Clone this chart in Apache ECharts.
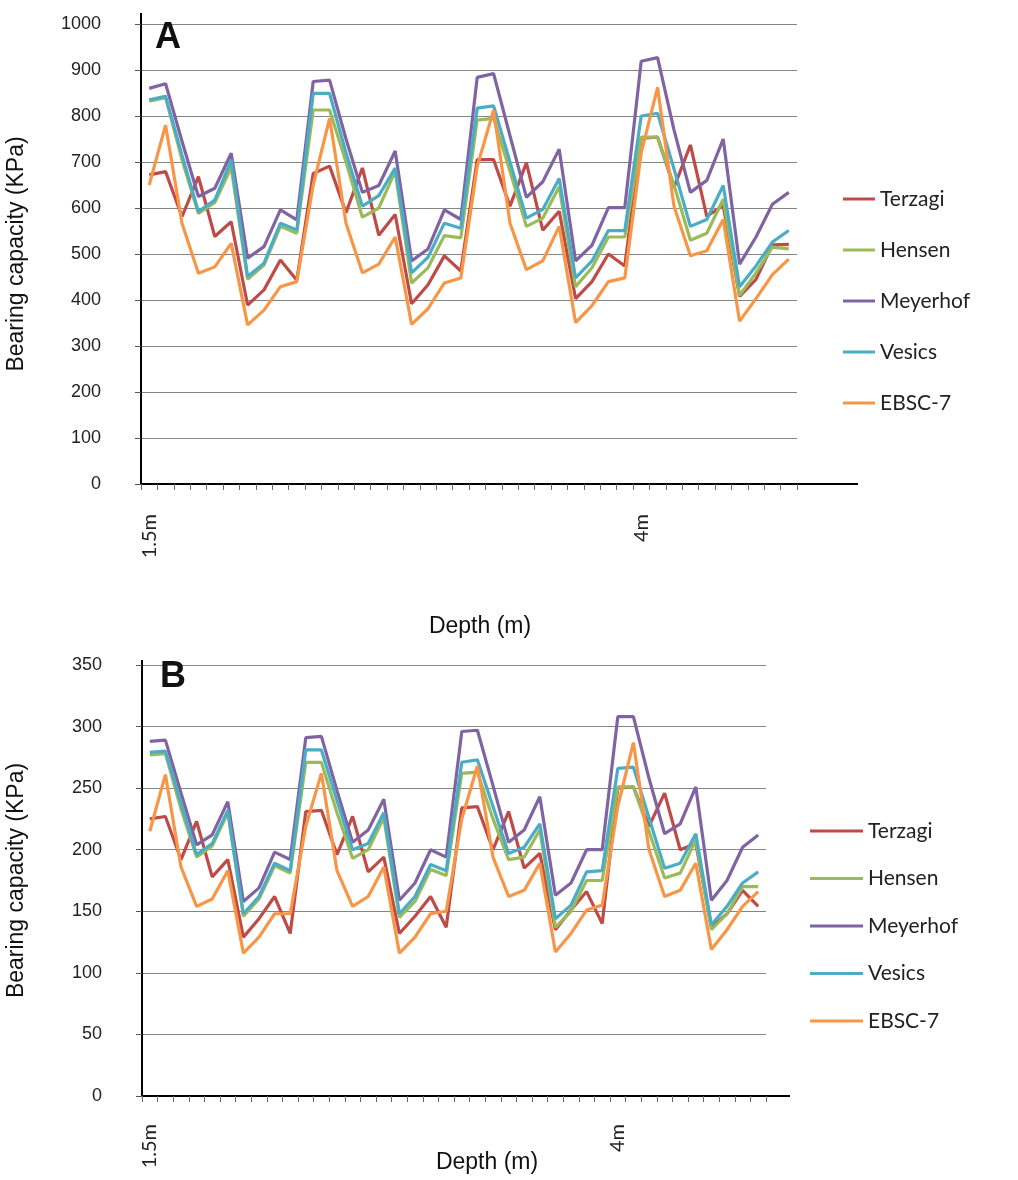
<!DOCTYPE html>
<html>
<head>
<meta charset="utf-8">
<script src="https://cdn.jsdelivr.net/npm/echarts@6/dist/echarts.min.js"></script>
<style>
  html, body { margin: 0; padding: 0; background: #ffffff; }
  #chart { width: 1018px; height: 1180px; }
</style>
</head>
<body>
<div id="chart"></div>
<script>
// Bearing capacity against depth, 40 points per panel, five methods.
const pointCount = 40;
const depthTicks = [[0, '1.5m'], [30, '4m']];
const seriesNames = ['Terzagi', 'Hensen', 'Meyerhof', 'Vesics', 'EBSC-7'];
const seriesColors = ['#be4b48', '#9bbb59', '#8064a2', '#4bacc6', '#f79646'];

// Panel A (KPa)
const terzagiA = [
  672, 679, 581, 668, 538, 570, 389, 422, 487, 443,
  675, 691, 590, 687, 541, 586, 392, 433, 496, 463,
  705, 705, 604, 698, 552, 593, 403, 440, 500, 474,
  752, 754, 645, 737, 582, 605, 408, 445, 520, 521
];
const hensenA = [
  832, 840, 705, 588, 612, 688, 445, 476, 560, 545,
  813, 813, 700, 580, 600, 680, 437, 470, 540, 535,
  791, 795, 680, 560, 578, 646, 429, 470, 537, 537,
  754, 754, 650, 530, 545, 619, 410, 459, 515, 511
];
const meyerhofA = [
  860, 870, 745, 625, 643, 719, 491, 516, 596, 574,
  875, 878, 750, 634, 649, 724, 485, 511, 596, 575,
  884, 892, 757, 623, 657, 728, 485, 519, 601, 601,
  919, 927, 770, 634, 660, 750, 478, 537, 608, 634
];
const vesicsA = [
  835, 843, 715, 592, 617, 704, 451, 480, 567, 552,
  849, 849, 720, 604, 627, 687, 459, 493, 567, 556,
  817, 822, 700, 578, 597, 664, 448, 485, 551, 551,
  800, 806, 685, 560, 575, 649, 429, 474, 526, 551
];
const ebscA = [
  650, 780, 567, 458, 472, 523, 346, 378, 429, 440,
  650, 795, 567, 459, 478, 537, 347, 381, 437, 448,
  690, 813, 567, 466, 485, 560, 351, 388, 440, 448,
  720, 862, 604, 496, 507, 575, 354, 403, 455, 489
];

// Panel B (KPa)
const terzagiB = [
  225, 227, 192, 223, 178, 192, 129, 144, 162, 132,
  231, 232, 196, 227, 182, 194, 132, 146, 162, 137,
  234, 235, 200, 231, 185, 197, 135, 151, 166, 140,
  250, 251, 219, 246, 200, 205, 137, 148, 167, 154
];
const hensenB = [
  277, 278, 233, 194, 203, 230, 146, 160, 187, 181,
  271, 271, 230, 193, 200, 226, 145, 158, 184, 179,
  262, 263, 225, 192, 194, 216, 137, 150, 175, 175,
  251, 251, 215, 177, 181, 208, 135, 148, 170, 170
];
const meyerhofB = [
  288, 289, 246, 204, 212, 239, 158, 169, 198, 192,
  291, 292, 248, 206, 216, 241, 159, 173, 200, 194,
  296, 297, 252, 206, 216, 243, 163, 173, 200, 200,
  308, 308, 258, 213, 221, 251, 159, 175, 202, 212
];
const vesicsB = [
  279, 280, 238, 196, 205, 232, 148, 162, 189, 183,
  281, 281, 240, 200, 205, 230, 148, 162, 188, 183,
  271, 273, 235, 197, 202, 221, 144, 155, 182, 183,
  266, 267, 226, 185, 189, 213, 139, 154, 173, 182
];
const ebscB = [
  215, 261, 186, 154, 160, 183, 116, 129, 148, 148,
  219, 262, 183, 154, 162, 186, 116, 129, 148, 150,
  225, 268, 194, 162, 167, 189, 117, 132, 151, 155,
  235, 287, 200, 162, 167, 189, 119, 135, 154, 166
];

const panelA = [terzagiA, hensenA, meyerhofA, vesicsA, ebscA];
const panelB = [terzagiB, hensenB, meyerhofB, vesicsB, ebscB];

// Category names: only the labelled depths carry text.
const categories = Array.from({ length: pointCount }, () => '');
depthTicks.forEach(([i, label]) => { categories[i] = label; });

const gridA = { left: 141, top: 24, width: 656, height: 460, outerBoundsMode: 'none' };
const gridB = { left: 142, top: 665, width: 624, height: 431, outerBoundsMode: 'none' };

const numFont = 'Liberation Sans, Arial, sans-serif';
const labelFont = 'Lato, Open Sans, sans-serif';

function xAxisFor(gridIndex, labelMargin, nameGap, namePadLeft) {
  return {
    type: 'category',
    gridIndex,
    data: categories,
    boundaryGap: true,
    axisLine: { show: true, lineStyle: { color: '#000', width: 2 } },
    axisTick: { show: true, interval: 0, length: 6, lineStyle: { color: '#666', width: 1 } },
    axisLabel: {
      interval: 0, rotate: 90, margin: labelMargin,
      fontFamily: labelFont, fontSize: 20, color: '#222'
    },
    splitLine: { show: false },
    name: 'Depth (m)',
    nameLocation: 'middle',
    nameGap,
    nameMoveOverlap: false,
    nameTextStyle: {
      fontFamily: numFont, fontSize: 23, color: '#111',
      padding: [0, 0, 0, namePadLeft]
    }
  };
}

function yAxisFor(gridIndex, max, interval, nameGap) {
  return {
    type: 'value',
    gridIndex,
    min: 0, max, interval,
    axisLine: { show: true, lineStyle: { color: '#000', width: 2 } },
    axisTick: { show: true, length: 6, lineStyle: { color: '#555', width: 1 } },
    axisLabel: {
      margin: 40, fontFamily: numFont, fontSize: 18, color: '#222',
      formatter: (v) => String(v)
    },
    splitLine: { show: true, lineStyle: { color: '#858585', width: 1.2 } },
    name: 'Bearing capacity (KPa)',
    nameLocation: 'middle',
    nameGap,
    nameMoveOverlap: false,
    nameRotate: 90,
    nameTextStyle: { fontFamily: numFont, fontSize: 23, color: '#111' }
  };
}

function legendFor(left, top, iconWidth, gap) {
  return {
    orient: 'vertical',
    left, top,
    icon: 'rect',
    itemWidth: iconWidth,
    itemHeight: 3,
    itemGap: gap,
    data: seriesNames,
    textStyle: { fontFamily: labelFont, fontSize: 21, color: '#222', lineHeight: 22 }
  };
}

function seriesFor(panel, idx) {
  return panel.map((values, k) => ({
    name: seriesNames[k],
    type: 'line',
    xAxisIndex: idx,
    yAxisIndex: idx,
    data: values,
    showSymbol: false,
    symbol: 'none',
    lineStyle: { width: 3.2, color: seriesColors[k] },
    itemStyle: { color: seriesColors[k] },
    z: 2 + k
  }));
}

const chart = echarts.init(document.getElementById('chart'), null, { renderer: 'canvas' });

const option = {
  backgroundColor: '#ffffff',
  animation: false,
  color: seriesColors,
  title: [
    { text: 'A', left: 150, top: 15, textStyle: { fontFamily: numFont, fontSize: 36, fontWeight: 'bold', color: '#111' } },
    { text: 'B', left: 155, top: 654, textStyle: { fontFamily: numFont, fontSize: 36, fontWeight: 'bold', color: '#111' } }
  ],
  grid: [gridA, gridB],
  xAxis: [xAxisFor(0, 30, 131, 22), xAxisFor(1, 28, 55, 66)],
  yAxis: [yAxisFor(0, 1000, 100, 113), yAxisFor(1, 350, 50, 114)],
  legend: [legendFor(838, 183, 32, 29), legendFor(805, 815, 53, 25.5)],
  series: [...seriesFor(panelA, 0), ...seriesFor(panelB, 1)],
  graphic: [
    // horizontal axis lines run on past the last category
    { type: 'line', shape: { x1: gridA.left + gridA.width, y1: gridA.top + gridA.height, x2: 858, y2: gridA.top + gridA.height }, style: { stroke: '#000', lineWidth: 2 } },
    { type: 'line', shape: { x1: gridB.left + gridB.width, y1: gridB.top + gridB.height, x2: 790, y2: gridB.top + gridB.height }, style: { stroke: '#000', lineWidth: 2 } },
    // vertical axis lines rise a little above the top gridline
    { type: 'line', shape: { x1: gridA.left, y1: gridA.top, x2: gridA.left, y2: gridA.top - 11 }, style: { stroke: '#000', lineWidth: 2 } },
    { type: 'line', shape: { x1: gridB.left, y1: gridB.top, x2: gridB.left, y2: gridB.top - 5 }, style: { stroke: '#000', lineWidth: 2 } }
  ]
};

chart.setOption(option);
</script>
</body>
</html>
